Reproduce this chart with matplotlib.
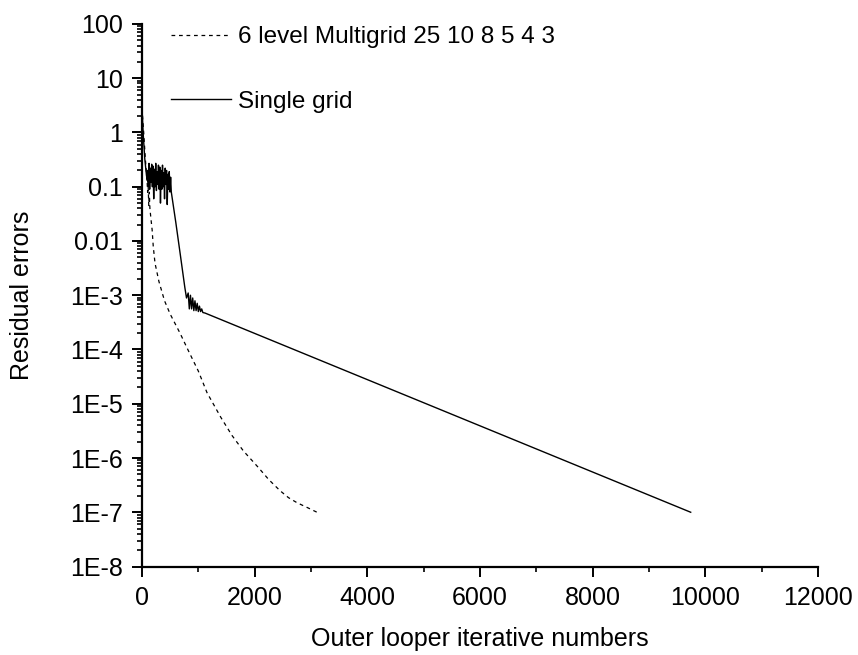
import matplotlib
matplotlib.use("Agg")
import matplotlib.pyplot as plt
from matplotlib.ticker import LogLocator, FixedLocator, MultipleLocator, NullFormatter

plt.rcParams['font.family'] = ['Liberation Sans', 'DejaVu Sans']

# ── data ──────────────────────────────────────────────────────────────────────
mg_iter = [0, 30, 60, 90, 100, 110, 120, 130, 140, 160, 180, 200, 231, 300,
           400, 500, 675, 817, 1000, 1154, 1400, 1598, 1800, 2059, 2250,
           2450, 2600, 2751, 2950, 3106]
mg_res = [2.8, 1.0, 0.32, 0.13, 0.079, 0.10, 0.045, 0.079, 0.040, 0.025,
          0.016, 7.9e-3, 3.9e-3, 1.8e-3, 7.9e-4, 4.5e-4, 2.0e-4, 9.8e-5,
          4.0e-5, 1.6e-5, 5.6e-6, 2.6e-6, 1.35e-6, 6.8e-7, 4.0e-7, 2.5e-7,
          1.86e-7, 1.5e-7, 1.2e-7, 1.0e-7]

sg_iter = [0, 20, 50, 80, 95,
           100, 112, 124, 136, 148, 160, 172, 184, 196, 208, 220, 232, 244,
           256, 268, 280, 292, 304, 316, 328, 340, 352, 364, 376, 388, 400,
           412, 424, 436, 448, 460, 472, 484, 496, 508, 520,
           600, 680, 760, 790,
           820, 840, 860, 880, 900, 920, 940, 960, 980, 1000, 1020, 1040,
           1060, 1080, 1118, 9740]
sg_res = [2.8, 1.0, 0.32, 0.16, 0.13,
          0.20, 0.10, 0.27, 0.09, 0.22, 0.12, 0.26, 0.10, 0.24, 0.06,
          0.21, 0.10, 0.27, 0.085, 0.19, 0.11, 0.25, 0.09, 0.23, 0.05,
          0.20, 0.09, 0.25, 0.10, 0.18, 0.06, 0.22, 0.11, 0.20, 0.047,
          0.17, 0.09, 0.19, 0.08, 0.15, 0.08,
          0.022, 5.6e-3, 1.4e-3, 8.9e-4,
          1.1e-3, 5.6e-4, 1.0e-3, 5.6e-4, 8.9e-4, 5.2e-4, 7.9e-4, 5.2e-4,
          7.1e-4, 5.0e-4, 6.3e-4, 5.0e-4, 5.6e-4, 4.8e-4, 4.7e-4, 1.0e-7]

y_ticks = [1e2, 1e1, 1e0, 1e-1, 1e-2, 1e-3, 1e-4, 1e-5, 1e-6, 1e-7, 1e-8]
y_tick_labels = ["100", "10", "1", "0.1", "0.01", "1E-3", "1E-4", "1E-5",
                 "1E-6", "1E-7", "1E-8"]

# ── figure ────────────────────────────────────────────────────────────────────
fig = plt.figure(figsize=(8.58, 6.55), dpi=100)
ax = fig.add_axes([0.1655, 0.1351, 0.7879, 0.8283])

ax.plot(mg_iter, mg_res, color='k', lw=0.9, ls=(0, (3, 3)),
        label="6 level Multigrid 25 10 8 5 4 3")
ax.plot(sg_iter, sg_res, color='k', lw=1.0, label="Single grid")

ax.set_yscale('log')
ax.set_xlim(0, 12000)
ax.set_ylim(1e-8, 100)

ax.xaxis.set_major_locator(MultipleLocator(2000))
ax.xaxis.set_minor_locator(MultipleLocator(1000))
ax.yaxis.set_major_locator(FixedLocator(y_ticks))
ax.set_yticklabels(y_tick_labels)
ax.yaxis.set_minor_locator(LogLocator(base=10, subs=range(2, 10), numticks=20))
ax.yaxis.set_minor_formatter(NullFormatter())

for s in ('top', 'right'):
    ax.spines[s].set_visible(False)
for s in ('left', 'bottom'):
    ax.spines[s].set_linewidth(1.6)

ax.tick_params(which='major', direction='out', length=7, width=1.4,
               labelsize=18, pad=7)
ax.tick_params(which='minor', direction='out', length=3.5, width=1.2)

ax.set_xlabel("Outer looper iterative numbers", fontsize=18, labelpad=12)
ax.set_ylabel("Residual errors", fontsize=18)
ax.yaxis.set_label_coords(-0.16, 0.5)

ax.legend(loc='upper left', bbox_to_anchor=(0.043, 0.996), frameon=False,
          fontsize=17.5, handlelength=2.45, handletextpad=0.3,
          labelspacing=1.75, borderpad=0, borderaxespad=0)

fig.savefig("out.png", dpi=100)
